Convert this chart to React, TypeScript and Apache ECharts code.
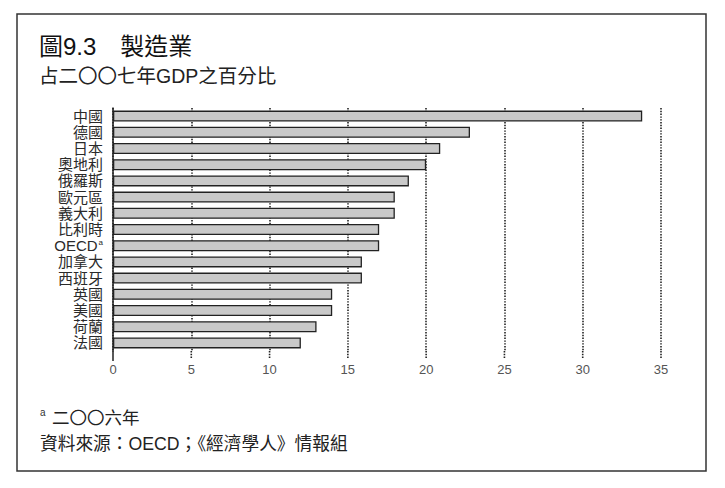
import React, { useEffect, useRef } from "react";
import * as echarts from "echarts";

const categories = ["中國", "德國", "日本", "奧地利", "俄羅斯", "歐元區", "義大利", "比利時", "OECD", "加拿大", "西班牙", "英國", "美國", "荷蘭", "法國"];
const values = [33.8, 22.8, 20.9, 20.0, 18.9, 18.0, 18.0, 17.0, 17.0, 15.9, 15.9, 14.0, 14.0, 13.0, 12.0];
const xTicks = [0, 5, 10, 15, 20, 25, 30, 35];
const titleText = "圖9.3　製造業";
const subtitleText = "占二〇〇七年GDP之百分比";
const footnoteText = "二〇〇六年";
const sourceText = "資料來源：OECD；《經濟學人》情報組";

const FONT = "'Liberation Sans', 'Noto Sans CJK TC', sans-serif";
const INK = "#222";

export default function App() {
  const ref = useRef<HTMLDivElement>(null);
  useEffect(() => {
    if (!ref.current) return;
    const chart = echarts.init(ref.current, null, { renderer: "svg" });
    const gridTop = 108;
    const band = 16.2;
    const gridBottomPx = gridTop + band * categories.length;
    const option: any = {
      animation: false,
      backgroundColor: "#fff",
      grid: { left: 113, right: 64, top: gridTop, bottom: 488 - gridBottomPx, containLabel: false },
      xAxis: {
        type: "value",
        min: 0,
        max: 35,
        interval: 5,
        axisLine: { show: false },
        axisTick: { show: false },
        axisLabel: { color: "#555", fontSize: 13, fontFamily: "'Liberation Sans', sans-serif", margin: 12 },
        splitLine: { show: true, lineStyle: { color: INK, width: 1.6, type: [1.4, 1.4] } },
      },
      yAxis: {
        type: "category",
        data: categories,
        inverse: true,
        axisLine: { show: true, lineStyle: { color: INK, width: 1.5 } },
        axisTick: { show: false },
        axisLabel: {
          interval: 0,
          color: "#2a2a2a",
          fontSize: 15,
          fontFamily: FONT,
          margin: 10,
          formatter: (v: string) => (v === "OECD" ? "{n|OECD}{s|a}" : v),
          rich: {
            n: { fontSize: 15, fontFamily: FONT, color: "#2a2a2a" },
            s: { fontSize: 8, fontFamily: FONT, color: "#2a2a2a", verticalAlign: "top", padding: [0, 0, 7, 1] },
          },
        },
      },
      series: [
        {
          type: "bar",
          data: values,
          barWidth: 11,
          itemStyle: { color: "#c9c9c9", borderColor: INK, borderWidth: 1.3 },
          z: 3,
        },
      ],
      graphic: [
        {
          type: "rect",
          shape: { x: 17, y: 14, width: 689, height: 457 },
          style: { fill: "none", stroke: "#333", lineWidth: 1.5 },
          silent: true,
        },
        {
          type: "text",
          x: 39,
          y: 46,
          style: { text: titleText, fontSize: 24, fontFamily: FONT, fill: "#111", verticalAlign: "middle" },
        },
        {
          type: "text",
          x: 39,
          y: 76,
          style: { text: subtitleText, fontSize: 19.5, fontFamily: FONT, fill: "#222", verticalAlign: "middle" },
        },
        {
          type: "text",
          x: 40,
          y: 412,
          style: { text: "a", fontSize: 10, fontFamily: FONT, fill: "#333", verticalAlign: "middle" },
        },
        {
          type: "text",
          x: 52,
          y: 418,
          style: { text: footnoteText, fontSize: 17.5, fontFamily: FONT, fill: "#222", verticalAlign: "middle" },
        },
        {
          type: "text",
          x: 40,
          y: 444,
          style: { text: sourceText, fontSize: 17.7, fontFamily: FONT, fill: "#222", verticalAlign: "middle" },
        },
      ],
    };
    chart.setOption(option);

    // extend the axis line and dotted grid lines a little below the last bar, via the axis scale
    const ext: any[] = [];
    xTicks.forEach((t) => {
      const px = chart.convertToPixel({ xAxisIndex: 0 }, t) as number;
      if (t === 0) {
        ext.push({
          type: "line",
          shape: { x1: px, y1: gridBottomPx, x2: px, y2: gridBottomPx + 10 },
          style: { stroke: INK, lineWidth: 1.5 },
          silent: true,
        });
      } else {
        ext.push({
          type: "line",
          shape: { x1: px, y1: gridBottomPx, x2: px, y2: gridBottomPx + 7 },
          style: { stroke: INK, lineWidth: 1.6, lineDash: [1.4, 1.4] },
          silent: true,
        });
      }
    });
    chart.setOption({ graphic: [...option.graphic, ...ext] });

    return () => chart.dispose();
  }, []);
  return <div ref={ref} style={{ position: "fixed", left: 0, top: 0, width: 725, height: 488 }} />;
}
